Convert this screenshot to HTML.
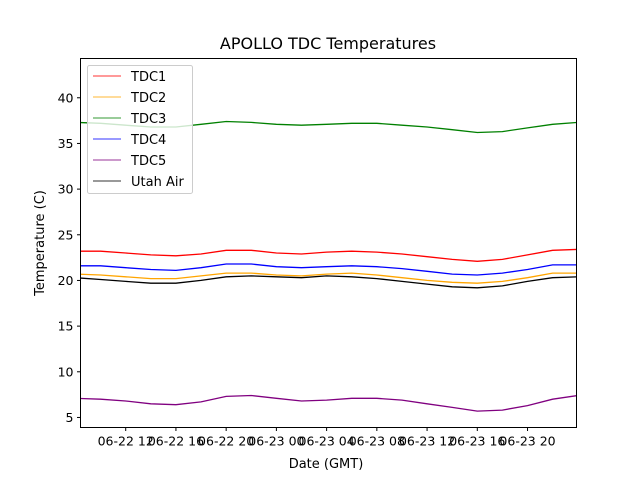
<!DOCTYPE html>
<html><head><meta charset="utf-8"><style>
body{margin:0;background:#fff;font-family:"DejaVu Sans","Liberation Sans",sans-serif;}
svg text{font-family:"DejaVu Sans","Liberation Sans",sans-serif;}
</style></head><body>
<svg id="chart" width="640" height="480" xmlns="http://www.w3.org/2000/svg">
<rect width="640" height="480" fill="#fff"/>
<text x="328" y="49" font-size="16" text-anchor="middle">APOLLO TDC Temperatures</text>
<g id="plot"></g>
<rect x="80.5" y="58.5" width="496" height="369" fill="none" stroke="#000" stroke-width="1"/>
<g id="axes"></g>
<text x="326" y="468" font-size="13" text-anchor="middle">Date (GMT)</text>
<text transform="translate(44,243) rotate(-90)" font-size="13" text-anchor="middle">Temperature (C)</text>
<g id="legend"></g>
</svg>
<script>
const hours=[8,10,12,14,16,18,20,22,24,26,28,30,32,34,36,38,40,42,44,46,48];
const tdc1=[23.2,23.2,23.0,22.8,22.7,22.9,23.3,23.3,23.0,22.9,23.1,23.2,23.1,22.9,22.6,22.3,22.1,22.3,22.8,23.3,23.4];
const tdc2=[20.7,20.6,20.4,20.2,20.2,20.5,20.8,20.8,20.6,20.5,20.7,20.8,20.6,20.3,20.0,19.8,19.7,19.9,20.3,20.8,20.8];
const tdc3=[37.3,37.2,37.0,36.8,36.8,37.1,37.4,37.3,37.1,37.0,37.1,37.2,37.2,37.0,36.8,36.5,36.2,36.3,36.7,37.1,37.3];
const tdc4=[21.6,21.6,21.4,21.2,21.1,21.4,21.8,21.8,21.5,21.4,21.5,21.6,21.5,21.3,21.0,20.7,20.6,20.8,21.2,21.7,21.7];
const tdc5=[7.1,7.0,6.8,6.5,6.4,6.7,7.3,7.4,7.1,6.8,6.9,7.1,7.1,6.9,6.5,6.1,5.7,5.8,6.3,7.0,7.4];
const utah=[20.3,20.1,19.9,19.7,19.7,20.0,20.4,20.5,20.4,20.3,20.5,20.4,20.2,19.9,19.6,19.3,19.2,19.4,19.9,20.3,20.4];
const yTicks=[5,10,15,20,25,30,35,40];
const xTickHours=[12,16,20,24,28,32,36,40,44];
const xTickLabels=["06-22 12","06-22 16","06-22 20","06-23 00","06-23 04","06-23 08","06-23 12","06-23 16","06-23 20"];
const seriesNames=["TDC1","TDC2","TDC3","TDC4","TDC5","Utah Air"];

const NS="http://www.w3.org/2000/svg";
const xMin=8.4,xMax=47.9,yMin=3.9,yMax=44.3,L=80.5,R=576.5,T=58.5,B=427.5;
const xs=h=>L+(h-xMin)/(xMax-xMin)*(R-L);
const ys=v=>B-(v-yMin)/(yMax-yMin)*(B-T);
function mk(t,a,p){const e=document.createElementNS(NS,t);for(const k in a)e.setAttribute(k,a[k]);p.appendChild(e);return e;}
const plot=document.getElementById('plot'),axes=document.getElementById('axes'),leg=document.getElementById('legend');
mk('clipPath',{id:'clip'},plot).appendChild(document.createElementNS(NS,'rect'));
const cr=plot.querySelector('clipPath rect');cr.setAttribute('x',L);cr.setAttribute('y',T);cr.setAttribute('width',R-L);cr.setAttribute('height',B-T);
const series=[[tdc1,'#ff0000'],[tdc2,'#ffa500'],[tdc3,'#008000'],[tdc4,'#0000ff'],[tdc5,'#800080'],[utah,'#000000']];
const drawOrder=[2,0,3,1,5,4];
drawOrder.forEach(i=>{
 const [d,c]=series[i];
 const p=mk('polyline',{points:hours.map((h,j)=>xs(h).toFixed(1)+','+ys(d[j]).toFixed(1)).join(' '),fill:'none',stroke:c,'stroke-width':1.3,'clip-path':'url(#clip)'},plot);
 
 
});
yTicks.forEach(v=>{
 const y=ys(v);
 const t=mk('line',{x1:L-3.5,x2:L,y1:y,y2:y,stroke:'#000'},axes);
 
 
 const tx=mk('text',{x:L-7,y:y+4.5,'font-size':12.5,'text-anchor':'end'},axes);tx.textContent=v;
 
 
});
xTickHours.forEach((h,i)=>{
 const x=xs(h);
 const t=mk('line',{x1:x,x2:x,y1:B,y2:B+3.5,stroke:'#000'},axes);
 
 
 const tx=mk('text',{x:x,y:B+18,'font-size':12.5,'text-anchor':'middle'},axes);tx.textContent=xTickLabels[i];
 
 
});
const box=mk('rect',{x:87.5,y:65.5,width:105,height:128,rx:2,fill:'#fff','fill-opacity':0.8,stroke:'#ccc'},leg);


series.forEach((s,i)=>{
 const y=76+i*21;
 const ln=mk('line',{x1:93,x2:121,y1:y,y2:y,stroke:s[1],'stroke-opacity':0.8,'stroke-width':1},leg);
 
 
 const tx=mk('text',{x:131,y:y+5,'font-size':13},leg);tx.textContent=seriesNames[i];
 
 
});
</script>
</body></html>
